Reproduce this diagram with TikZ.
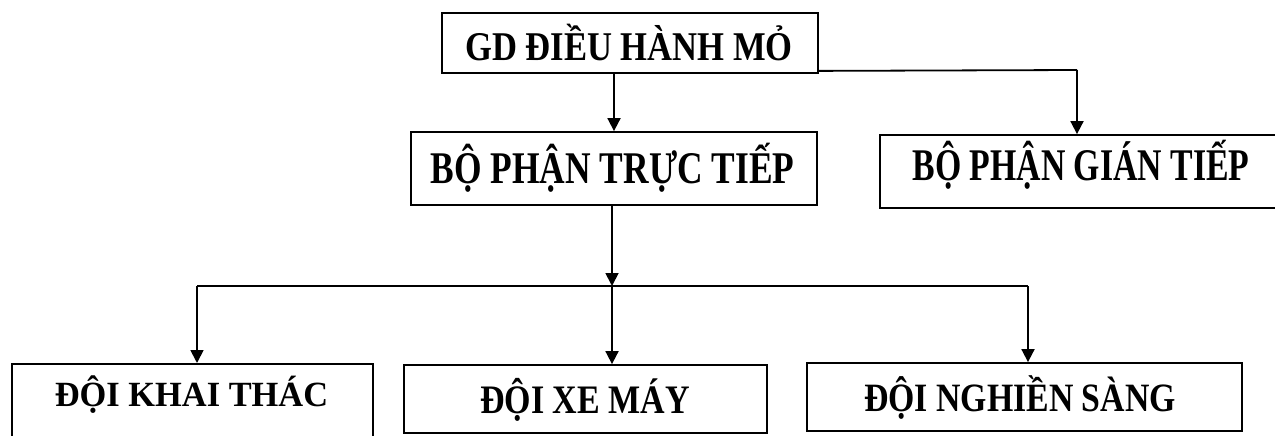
\documentclass[tikz,border=0pt]{standalone}
\usepackage{fontspec}
\setmainfont{Liberation Serif}
\usetikzlibrary{arrows.meta,calc}
\begin{document}
\begin{tikzpicture}[x=1pt,y=-1pt,
  box/.style={draw,line width=1.8pt,inner sep=0pt},
  lbl/.style={inner sep=0pt,text depth=0pt},
  conn/.style={line width=1.8pt},
  arr/.style={conn,-{Triangle[length=13pt,width=13pt]}}]
\newcommand{\lab}[3]{\scalebox{1}[#2]{\fontsize{#1}{#1}\selectfont\bfseries #3}}
\path[use as bounding box] (0,0) rectangle (1275,436);
% boxes
\node[box,minimum width=376pt,minimum height=60pt] (T) at (630,43) {};
\node[box,minimum width=406pt,minimum height=73pt] (D) at (614,168.5) {};
\node[box,minimum width=410pt,minimum height=73pt] (I) at (1085,171.5) {};
\node[box,minimum width=361pt,minimum height=120pt,anchor=north] (A) at (192.5,363) {};
\node[box,minimum width=363pt,minimum height=68pt] (B) at (585.5,399) {};
\node[box,minimum width=435pt,minimum height=68pt] (C) at (1024.5,397) {};
% labels
\node[lbl,text height=27pt] (Tt) at (629,46.5) {\lab{34.6}{1.18}{GD ĐIỀU HÀNH MỎ}};
\node[lbl,text height=30pt] (Dt) at (612.5,168) {\lab{35.4}{1.28}{BỘ PHẬN TRỰC TIẾP}};
\node[lbl,text height=30pt] (It) at (1081,165) {\lab{33.8}{1.34}{BỘ PHẬN GIÁN TIẾP}};
\node[lbl,text height=23.5pt] (At) at (191.5,395) {\lab{34.4}{1.03}{ĐỘI KHAI THÁC}};
\node[lbl,text height=26.7pt] (Bt) at (585,400) {\lab{34}{1.19}{ĐỘI XE MÁY}};
\node[lbl,text height=26.7pt] (Ct) at (1020,398.5) {\lab{33.8}{1.19}{ĐỘI NGHIỀN SÀNG}};
% connectors
\coordinate (TR) at ($(T.south east)+(0,-3)$);
\coordinate (TRc) at (1077,70);
\draw[arr] (T.south -| D.north) -- (D.north);
\draw[conn] (TR) -- (TRc);
\draw[arr] (TRc) -- (TRc |- I.north);
\coordinate (J) at (612,286);
\coordinate (JL) at (197,286);
\coordinate (JR) at (1028,286);
\draw[arr] (D.south -| J) -- (J);
\draw[conn] (JL) -- (JR);
\draw[arr] (JL) -- (JL |- A.north);
\draw[arr] (J) -- (J |- B.north);
\draw[arr] (JR) -- (JR |- C.north);
\end{tikzpicture}
\end{document}
